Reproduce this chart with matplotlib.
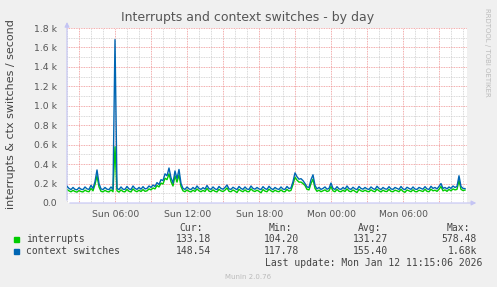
import numpy as np
import pandas as pd
import matplotlib
matplotlib.use("Agg")
import matplotlib.pyplot as plt
import matplotlib.dates as mdates
from matplotlib.ticker import MultipleLocator, FuncFormatter

# 10-minute samples, Sun Jan 11 01:58 -> Mon Jan 12 11:08
times = pd.date_range("2026-01-11 01:58", periods=200, freq="10min")

ctx = (
    [172, 150, 138, 160, 140, 136, 158, 142, 138, 165,
     145, 140, 182, 150, 220, 340, 200, 145, 138, 160,
     142, 138, 165, 140, 1680, 150, 138, 165, 142, 140,
     170, 145, 138, 175, 150, 140, 160, 142, 168, 145,
     150, 175, 160, 185, 170, 210, 190, 240, 230, 300,
     280, 360, 260, 205, 330, 250, 345, 200, 150, 140,
     165, 145, 138, 160, 142, 175, 150, 140, 158, 143,
     180, 148, 140, 165, 145, 138, 170, 150, 142, 160,
     185, 145, 140, 162, 148, 138, 170, 150, 140, 165,
     143, 140, 175, 150, 142, 160, 145, 138, 168, 148,
     140, 172, 150, 138, 160, 145, 140, 165, 143, 140,
     170, 148, 155, 220, 310, 270, 245, 250, 230, 200,
     165, 160, 240, 290, 180, 145, 160, 140, 150, 165,
     142, 150, 205, 150, 140, 168, 145, 140, 160, 143,
     175, 148, 140, 162, 145, 138, 170, 150, 142, 160,
     145, 140, 165, 148, 140, 172, 150, 138, 160, 145,
     142, 168, 145, 140, 160, 150, 140, 170, 145, 138,
     162, 150, 140, 165, 143, 140, 160, 150, 142, 168,
     145, 140, 172, 150, 160, 145, 170, 200, 150, 160,
     145, 165, 150, 175, 160, 170, 280, 170, 150, 148]
)

interrupts = (
    [140, 125, 115, 130, 118, 112, 128, 118, 114, 132,
     120, 116, 150, 125, 190, 280, 165, 120, 115, 130,
     118, 114, 135, 116, 578, 125, 112, 135, 118, 115,
     140, 120, 114, 145, 125, 116, 132, 118, 138, 120,
     125, 145, 135, 155, 145, 180, 165, 205, 195, 255,
     240, 300, 220, 175, 280, 215, 290, 170, 125, 116,
     135, 120, 114, 132, 118, 145, 125, 116, 130, 118,
     150, 122, 116, 135, 120, 114, 140, 125, 118, 132,
     155, 120, 116, 134, 122, 108, 140, 125, 116, 135,
     118, 116, 145, 125, 118, 132, 120, 105, 138, 122,
     116, 142, 125, 114, 132, 120, 116, 135, 118, 116,
     140, 122, 130, 190, 265, 235, 215, 215, 200, 180,
     140, 135, 200, 245, 150, 120, 132, 116, 125, 135,
     118, 125, 170, 125, 116, 140, 120, 116, 132, 118,
     145, 122, 116, 134, 120, 108, 140, 125, 118, 132,
     120, 116, 136, 122, 116, 142, 125, 114, 132, 120,
     118, 140, 120, 116, 132, 125, 116, 140, 120, 110,
     134, 125, 116, 136, 118, 116, 132, 125, 118, 140,
     120, 116, 142, 125, 132, 120, 140, 170, 125, 135,
     120, 140, 125, 145, 135, 140, 235, 140, 128, 133]
)
assert len(ctx) == 200 and len(interrupts) == 200

W, H = 497, 287
def fx(x): return x / W
def fy(y): return 1 - y / H

fig = plt.figure(figsize=(W / 100, H / 100), dpi=100, facecolor="#F0F0F0")
ax = fig.add_axes([fx(67), fy(203), 400 / W, 175 / H])
ax.set_facecolor("white")

ax.plot(times, interrupts, color="#00CC00", lw=1.0, zorder=3)
ax.plot(times, ctx, color="#0066B3", lw=1.0, zorder=4)

ax.set_xlim(pd.Timestamp("2026-01-11 01:58"), pd.Timestamp("2026-01-12 11:18"))
ax.set_ylim(0, 1800)

ax.yaxis.set_major_locator(MultipleLocator(200))
ax.yaxis.set_minor_locator(MultipleLocator(100))
ax.yaxis.set_major_formatter(FuncFormatter(lambda v, p: "0.0" if v == 0 else "%.1f k" % (v / 1000)))

ax.xaxis.set_major_locator(mdates.HourLocator(byhour=range(0, 24, 3)))
ax.xaxis.set_minor_locator(mdates.HourLocator())
def xlab(v, p):
    d = mdates.num2date(v)
    return d.strftime("%a %H:%M") if d.hour % 6 == 0 else ""
ax.xaxis.set_major_formatter(FuncFormatter(xlab))

ax.grid(which="minor", color="#CCCCCC", ls=(0, (1, 1)), lw=0.6, zorder=1)
ax.grid(which="major", color="#EE9090", ls=(0, (1, 1)), lw=0.6, zorder=2)

ax.tick_params(which="both", length=0, labelsize=6.7, colors="#555555")
ax.tick_params(axis="y", pad=7)
ax.tick_params(axis="x", pad=5)
for s in ax.spines.values():
    s.set_visible(False)

# axis lines with arrows
axis_col = "#C4C4F4"
ax.annotate("", xy=(0, 1.05), xytext=(0, 0), xycoords="axes fraction",
            arrowprops=dict(arrowstyle="-|>", color=axis_col, lw=0.8, mutation_scale=7))
ax.annotate("", xy=(1.03, 0), xytext=(0, 0), xycoords="axes fraction",
            arrowprops=dict(arrowstyle="-|>", color=axis_col, lw=0.8, mutation_scale=7))

fig.text(fx(248), fy(17), "Interrupts and context switches - by day",
         ha="center", va="center", fontsize=9, color="#555555")
fig.text(fx(11), fy(114), "interrupts & ctx switches / second", rotation=90,
         ha="center", va="center", fontsize=8, color="#444444")
fig.text(fx(487), fy(52), "RRDTOOL / TOBI OETIKER", rotation=270,
         ha="center", va="center", fontsize=5, color="#BBBBBB")

# legend block
mono = "DejaVu Sans Mono"
tc = "#444444"
headers = ["Cur:", "Min:", "Avg:", "Max:"]
head_x = [203, 292, 381, 470]
val_x = [211, 299, 388, 477]
rows = [
    ("interrupts", "#00CC00", ["133.18", "104.20", "131.27", "578.48"]),
    ("context switches", "#0066B3", ["148.54", "117.78", "155.40", "1.68k"]),
]
for hx, h in zip(head_x, headers):
    fig.text(fx(hx), fy(228), h, ha="right", va="center", family=mono, fontsize=7, color=tc)
for k, (name, col, vals) in enumerate(rows):
    y = 239 + 12 * k
    fig.patches.append(plt.Rectangle((fx(14), fy(y + 3)), 5 / W, 5 / H,
                                     transform=fig.transFigure, color=col))
    fig.text(fx(26), fy(y), name, ha="left", va="center", family=mono, fontsize=7, color=tc)
    for vx, v in zip(val_x, vals):
        fig.text(fx(vx), fy(y), v, ha="right", va="center", family=mono, fontsize=7, color=tc)
fig.text(fx(482), fy(263), "Last update: Mon Jan 12 11:15:06 2026", ha="right", va="center",
         family=mono, fontsize=7, color=tc)
fig.text(fx(248), fy(277), "Munin 2.0.76", ha="center", va="center", fontsize=5, color="#BBBBBB")

fig.savefig("out.png", dpi=100, facecolor=fig.get_facecolor())
